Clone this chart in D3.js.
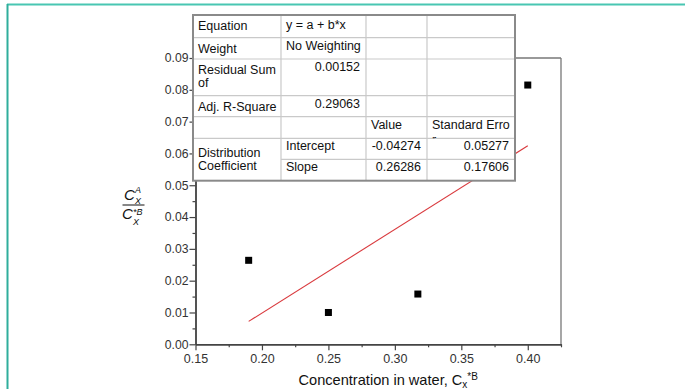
<!DOCTYPE html>
<html>
<head>
<meta charset="utf-8">
<script src="https://cdn.jsdelivr.net/npm/d3@7"></script>
<style>
body { margin: 0; background: #fff; }
svg { display: block; font-family: "Liberation Sans", Arial, sans-serif; }
</style>
</head>
<body>
<div id="chart"></div>
<script>
// data
var xVals = [0.19, 0.25, 0.3173, 0.40]
var yVals = [0.0264, 0.0100, 0.0158, 0.0815]
var fitIntercept = -0.04274
var fitSlope = 0.26286
var fitX = [0.19, 0.40]
var xTicks = [0.15, 0.20, 0.25, 0.30, 0.35, 0.40]
var xMinor = [0.175, 0.225, 0.275, 0.325, 0.375, 0.425]
var yTicks = [0, 0.01, 0.02, 0.03, 0.04, 0.05, 0.06, 0.07, 0.08, 0.09]
var yMinor = [0.005, 0.015, 0.025, 0.035, 0.045, 0.055, 0.065, 0.075, 0.085]

// fit table text
var tableCol1 = ["Equation", "Weight", "Residual Sum|of", "Adj. R-Square", "", "Distribution|Coefficient", null]
var tableCol2 = ["y = a + b*x", "No Weighting", "0.00152", "0.29063", "", "Intercept", "Slope"]
var tableCol3 = ["", "", "", "", "Value", "-0.04274", "0.26286"]
var tableCol4 = ["", "", "", "", "Standard Erro", "0.05277", "0.17606"]

var W = 685, H = 389

var svg = d3.select("#chart")
	.append("svg")
	.attr("width", W)
	.attr("height", H)

// teal page frame
svg.append("line").attr("x1", 7).attr("x2", W).attr("y1", 4.5).attr("y2", 4.5)
	.style("stroke", "#48c6b2").style("stroke-width", 2.2)
svg.append("line").attr("x1", 7.5).attr("x2", 7.5).attr("y1", 4).attr("y2", H)
	.style("stroke", "#2fae9c").style("stroke-width", 2)

// scales
var x = d3.scaleLinear().domain([0.15, 0.425]).range([195.5, 561])
var y = d3.scaleLinear().domain([0, 0.09]).range([344.3, 58])

var axisColor = "#444"

// top + right frame
svg.append("line").attr("x1", x(0.15)).attr("x2", x(0.425)).attr("y1", y(0.09)).attr("y2", y(0.09))
	.style("stroke", "#777").style("stroke-width", 1.3)
svg.append("line").attr("x1", x(0.425)).attr("x2", x(0.425)).attr("y1", y(0.09)).attr("y2", y(0))
	.style("stroke", "#777").style("stroke-width", 1.3)

// minor ticks
var xMinorG = svg.append("g").attr("transform", "translate(0," + y(0) + ")")
	.call(d3.axisBottom(x).tickValues(xMinor).tickSize(3).tickSizeOuter(0).tickFormat(""))
var yMinorG = svg.append("g").attr("transform", "translate(" + x(0.15) + ",0)")
	.call(d3.axisLeft(y).tickValues(yMinor).tickSize(3).tickSizeOuter(0).tickFormat(""))

// major axes
var xAxisG = svg.append("g").attr("transform", "translate(0," + y(0) + ")")
	.call(d3.axisBottom(x).tickValues(xTicks).tickSize(6).tickSizeOuter(0).tickFormat(d3.format(".2f")))
var yAxisG = svg.append("g").attr("transform", "translate(" + x(0.15) + ",0)")
	.call(d3.axisLeft(y).tickValues(yTicks).tickSize(6).tickSizeOuter(0).tickFormat(d3.format(".2f")))

svg.selectAll(".domain").style("stroke", axisColor).style("stroke-width", 1.4)
svg.selectAll(".tick line").style("stroke", axisColor).style("stroke-width", 1.2)
xAxisG.selectAll("text").style("font-size", "12.5px").style("fill", "#333")
	.style("font-family", "'Liberation Sans', Arial, sans-serif").attr("y", 10)
yAxisG.selectAll("text").style("font-size", "12.2px").style("fill", "#333")
	.style("font-family", "'Liberation Sans', Arial, sans-serif").attr("x", -7)

// fit line
svg.append("line")
	.attr("x1", x(fitX[0])).attr("y1", y(fitIntercept + fitSlope * fitX[0]))
	.attr("x2", x(fitX[1])).attr("y2", y(fitIntercept + fitSlope * fitX[1]))
	.style("stroke", "#d9393d").style("stroke-width", 1.1)

// points
svg.append("g").selectAll("rect")
	.data(xVals.map(function(d, i) { return [d, yVals[i]] }))
	.enter()
	.append("rect")
	.attr("x", function(d) { return x(d[0]) - 3.5 })
	.attr("y", function(d) { return y(d[1]) - 3.5 })
	.attr("width", 7)
	.attr("height", 7)
	.style("fill", "#000")

// x axis title
var xt = svg.append("text").attr("x", 298.5).attr("y", 385)
	.style("font-size", "14.6px").style("fill", "#111")
xt.append("tspan").text("Concentration in water, C")
xt.append("tspan").text("x").style("font-size", "10px").attr("dy", 3)
xt.append("tspan").text("*B").style("font-size", "10px").attr("dy", -8.5)

// y axis title (fraction)
var yl = svg.append("g").style("font-style", "italic").style("fill", "#111")
yl.append("text").attr("x", 124).attr("y", 200).style("font-size", "15px").text("C")
yl.append("text").attr("x", 135).attr("y", 193).style("font-size", "9px").text("A")
yl.append("text").attr("x", 135).attr("y", 204).style("font-size", "9px").text("X")
yl.append("line").attr("x1", 122.5).attr("x2", 144.5).attr("y1", 205).attr("y2", 205)
	.style("stroke", "#111").style("stroke-width", 1)
yl.append("text").attr("x", 122).attr("y", 219).style("font-size", "15px").text("C")
yl.append("text").attr("x", 133).attr("y", 214.5).style("font-size", "9px").text("*B")
yl.append("text").attr("x", 133).attr("y", 224.5).style("font-size", "9px").text("X")

// fit table
var colX = [193, 281, 366, 427, 515]
var rowY = [15, 37.7, 59, 95.7, 116.7, 138.3, 159.3, 180.7]
var tg = svg.append("g").style("font-size", "12.5px").style("fill", "#111")

tg.append("rect").attr("x", colX[0]).attr("y", rowY[0])
	.attr("width", colX[4] - colX[0]).attr("height", rowY[7] - rowY[0])
	.style("fill", "#fff")

// inner grid
var inner = "#c9c9c9"
rowY.slice(1, 7).forEach(function(ry, i) {
	var x0 = (i == 5) ? colX[1] : colX[0]
	tg.append("line").attr("x1", x0).attr("x2", colX[4]).attr("y1", ry).attr("y2", ry)
		.style("stroke", inner).style("stroke-width", 1.2)
})
colX.slice(1, 4).forEach(function(cx) {
	tg.append("line").attr("x1", cx).attr("x2", cx).attr("y1", rowY[0]).attr("y2", rowY[7])
		.style("stroke", inner).style("stroke-width", 1.2)
})

// clipped "r" of "Standard Error"
tg.append("clipPath").attr("id", "hdrclip").append("rect")
	.attr("x", colX[3]).attr("y", rowY[4]).attr("width", colX[4] - colX[3]).attr("height", rowY[5] - rowY[4])
tg.append("text").attr("x", colX[3] + 5).attr("y", rowY[4] + 27)
	.attr("clip-path", "url(#hdrclip)").text("r")

function isNum(s) { return /^-?[0-9.]+$/.test(s) }

tableCol1.forEach(function(s, i) {
	if (!s) return
	var lines = s.split("|")
	var cy = lines.length > 1 ? rowY[i] + 10.5 : rowY[i] + 10.8
	if (i == 5) cy = rowY[i] + 14.4
	lines.forEach(function(l, j) {
		tg.append("text").attr("x", colX[0] + 5).attr("y", cy + j * 13 + 4.4).text(l)
	})
})

;[tableCol2, tableCol3, tableCol4].forEach(function(col, c) {
	col.forEach(function(s, i) {
		if (!s) return
		var cy = (i == 0) ? rowY[i] + 10 : rowY[i] + 7.6
		var num = isNum(s)
		tg.append("text")
			.attr("x", num ? colX[c + 2] - 6 : colX[c + 1] + 5)
			.attr("y", cy + 4.4)
			.attr("text-anchor", num ? "end" : "start")
			.text(s)
	})
})

// outer border
tg.append("rect").attr("x", colX[0]).attr("y", rowY[0])
	.attr("width", colX[4] - colX[0]).attr("height", rowY[7] - rowY[0])
	.style("fill", "none").style("stroke", "#8a8a8a").style("stroke-width", 2)
</script>
</body>
</html>
